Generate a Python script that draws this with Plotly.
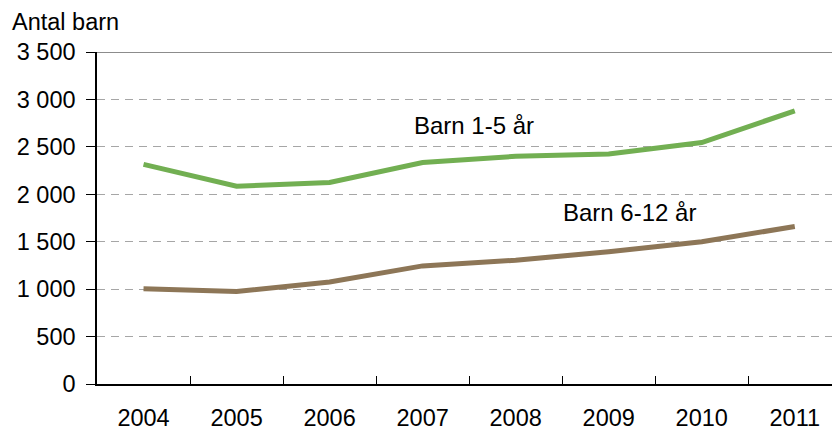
import plotly.graph_objects as go

years = ["2004", "2005", "2006", "2007", "2008", "2009", "2010", "2011"]
barn_1_5 = [2315, 2085, 2125, 2335, 2400, 2425, 2545, 2880]
barn_6_12 = [1005, 975, 1075, 1245, 1305, 1395, 1500, 1660]
y_ticks = [0, 500, 1000, 1500, 2000, 2500, 3000, 3500]

FONT = "Arial, Liberation Sans, sans-serif"

fig = go.Figure()
fig.add_trace(go.Scatter(x=years, y=barn_1_5, mode="lines", name="Barn 1-5 år",
                         line=dict(color="#72AF52", width=5)))
fig.add_trace(go.Scatter(x=years, y=barn_6_12, mode="lines", name="Barn 6-12 år",
                         line=dict(color="#8D7657", width=5)))

fig.update_layout(
    width=832, height=430,
    margin=dict(l=97, r=0, t=52, b=46, autoexpand=False),
    paper_bgcolor="white", plot_bgcolor="white",
    showlegend=False,
    separators=", ",
    font=dict(family=FONT, size=23, color="black"),
)
fig.update_xaxes(
    type="category", range=[-0.5, 7.4], automargin=False,
    showgrid=False, showline=True, linecolor="black", linewidth=1.5,
    ticks="inside", ticklen=8, tickcolor="black", tickwidth=1,
    tickson="boundaries", ticklabelstandoff=12,
    tickfont=dict(size=23.5, family=FONT, color="black"),
)
fig.update_yaxes(
    range=[0, 3500], tickvals=y_ticks, tickformat=",d", automargin=False,
    showgrid=True, gridcolor="#A6A6A6", gridwidth=1, griddash="8px,6px",
    showline=True, linecolor="black", linewidth=1.5,
    ticks="outside", ticklen=9, tickcolor="black", tickwidth=1,
    ticklabelstandoff=6, zeroline=False,
    tickfont=dict(size=23.5, family=FONT, color="black"),
)
fig.add_shape(type="line", xref="paper", yref="y", x0=0, x1=1, y0=3500, y1=3500,
              line=dict(color="#8C8C8C", width=2))

fig.add_annotation(text="Antal barn", xref="paper", yref="paper",
                   x=-87/735, y=1.0, yshift=30, xanchor="left", yanchor="middle",
                   showarrow=False, font=dict(size=23.5, family=FONT, color="black"))
fig.add_annotation(text="Barn 1-5 år", xref="x", yref="y",
                   x=3.55, y=2720, xanchor="center", yanchor="middle",
                   showarrow=False, font=dict(size=24, family=FONT, color="black"))
fig.add_annotation(text="Barn 6-12 år", xref="x", yref="y",
                   x=5.22, y=1810, xanchor="center", yanchor="middle",
                   showarrow=False, font=dict(size=24, family=FONT, color="black"))

fig.write_html("out.html", config={"displayModeBar": False},
               post_script="document.body.style.margin='0';document.body.style.overflow='hidden';")
